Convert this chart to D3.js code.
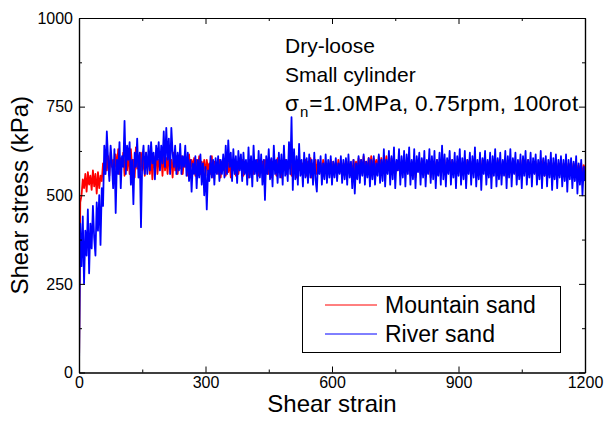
<!DOCTYPE html>
<html>
<head>
<meta charset="utf-8">
<script src="https://cdn.jsdelivr.net/npm/d3@7"></script>
<style>
  html, body { margin: 0; padding: 0; background: #fff; }
  svg { display: block; font-family: Arial, "Liberation Sans", sans-serif; }
</style>
</head>
<body>
<svg id="chart" width="606" height="424"></svg>
<script>
// ---- data ----
const strainStep = 3;            // sampling interval of the recorded series (shear strain units)
const xTicks = [0, 300, 600, 900, 1200];
const xMinorTicks = [150, 450, 750, 1050];
const yTicks = [0, 250, 500, 750, 1000];
const yMinorTicks = [125, 375, 625, 875];
const seriesNames = ["Mountain sand", "River sand"];
const seriesColors = ["#ff0000", "#0000ff"];
const annotation = ["Dry-loose", "Small cylinder"];

const mountainSand = [
  0,480,500,545,520,560,510,565,530,555,
  515,570,525,560,505,565,520,555,540,590,
  560,625,570,610,555,620,580,600,560,615,
  575,630,560,605,585,620,555,610,570,625,
  560,630,580,600,550,635,575,610,560,620,
  570,605,555,620,580,600,560,615,545,610,
  575,625,560,600,580,615,555,620,570,605,
  560,615,580,600,550,620,570,610,560,600,
  575,610,560,605,580,600,555,615,565,600,
  580,605,555,600,570,610,560,595,575,600,
  555,600,570,590,560,610,550,595,575,590,
  560,600,550,595,570,590,555,605,565,595,
  550,590,570,600,555,595,560,590,575,600,
  555,595,565,590,550,600,570,585,560,595,
  575,600,555,590,565,595,550,600,570,590,
  560,600,550,595,575,590,555,605,565,590,
  550,595,570,600,560,590,575,600,555,595,
  565,590,550,600,570,595,560,590,575,600,
  555,595,565,605,550,590,570,600,560,595,
  575,590,555,600,565,595,550,590,570,600,
  560,595,575,590,555,600,565,595,550,590,
  570,600,560,595,575,590,555,600,565,595,
  565,605,575,600,560,610,580,595,570,605,
  575,610,565,605,580,600,570,610,575,605,
  565,600,580,610,570,595,560,605,575,600,
  560,595,570,600,555,590,575,595,560,600,
  570,590,555,595,565,600,550,590,570,595,
  560,600,575,590,555,595,565,600,550,590,
  570,595,560,600,575,590,555,595,565,600,
  550,590,570,595,560,600,575,590,555,595,
  565,600,550,590,570,595,560,600,575,590,
  555,595,565,600,550,590,570,595,560,600,
  575,590,555,595,565,600,550,590,570,595,
  560,600,575,590,555,595,565,600,550,590,
  570,595,560,600,575,590,555,595,565,600,
  550,590,570,595,560,600,575,590,555,595,
  565,595,550,590,570,595,560,600,555,590,
  560,590,570,595,550,590,565,595,555,590,
  570,595,555,590,565,595,550,590,560,595,
  550,590,565,595,555,585,560,590,545,585,
  570
];

const riverSand = [
  0,420,300,440,250,400,330,460,280,420,
  350,470,380,330,480,400,500,360,520,470,
  640,560,680,600,540,640,590,520,630,450,
  600,560,650,520,610,580,710,560,640,600,
  650,530,600,475,620,580,660,550,620,410,
  600,640,560,620,560,640,570,650,590,620,
  545,640,600,650,570,640,590,680,580,690,
  600,660,560,690,620,580,640,560,620,570,
  645,560,610,580,640,555,620,540,600,510,
  590,560,610,520,600,550,615,530,590,500,
  580,460,570,540,610,550,600,530,605,560,
  610,540,600,560,615,550,640,560,655,580,
  620,540,630,560,610,535,625,570,615,540,
  620,560,600,530,635,550,610,525,640,560,
  600,540,625,550,615,530,600,487,610,560,
  630,545,605,525,640,560,600,535,620,550,
  615,530,640,555,600,540,650,560,720,515,
  630,545,610,530,645,555,600,525,620,550,
  605,535,615,550,600,530,620,545,510,600,
  560,610,530,590,545,615,535,600,550,610,
  530,595,550,605,540,590,560,610,535,600,
  545,605,530,615,550,595,520,600,505,590,
  545,610,535,600,555,615,530,595,550,605,
  525,600,545,610,530,590,555,615,535,600,
  540,630,525,600,560,625,530,610,545,635,
  520,600,570,630,530,610,550,625,525,615,
  560,635,530,600,545,630,520,610,565,620,
  530,605,550,625,525,600,560,630,535,610,
  545,625,520,600,555,620,530,640,545,615,
  525,605,560,625,530,600,550,620,520,610,
  555,630,530,605,545,625,520,600,560,620,
  530,610,550,635,525,600,545,620,515,605,
  560,625,530,600,550,620,520,610,555,630,
  525,605,545,620,530,600,555,625,520,610,
  550,630,525,605,560,620,530,600,545,615,
  520,610,555,625,530,600,550,620,525,605,
  560,615,530,600,545,625,520,605,555,610,
  525,600,550,620,515,605,545,615,520,600,
  550,610,525,600,540,615,510,600,545,605,
  520,595,540,610,505,590,530,600,500,580,
  540
];

// ---- layout ----
const svg = d3.select("#chart");
const margin = {left: 79, right: 21, top: 18, bottom: 51.5};
const W = 606 - margin.left - margin.right;
const H = 424 - margin.top - margin.bottom;
const g = svg.append("g").attr("transform", `translate(${margin.left},${margin.top})`);

const x = d3.scaleLinear().domain([0, 1200]).range([0, W]);
const y = d3.scaleLinear().domain([0, 1000]).range([H, 0]);

svg.append("defs").append("clipPath").attr("id", "clip")
  .append("rect").attr("x", 0).attr("y", 0).attr("width", W).attr("height", H);

// ---- lines ----
const line = d3.line()
  .x((d, i) => x(i * strainStep))
  .y(d => y(d));

const series = [mountainSand, riverSand];
const lg = g.append("g").attr("clip-path", "url(#clip)");
series.forEach((s, k) => {
  lg.append("path")
    .datum(s)
    .attr("fill", "none")
    .attr("stroke", seriesColors[k])
    .attr("stroke-width", 1.8)
    .attr("stroke-linejoin", "round")
    .attr("d", line);
});

// ---- axes ----
function styleAxis(sel) {
  sel.selectAll("path.domain").attr("stroke", "#000").attr("stroke-width", 1.2);
  sel.selectAll(".tick line").attr("stroke", "#000").attr("stroke-width", 1);
  sel.selectAll(".tick text").attr("fill", "#000").attr("font-size", 16)
     .attr("font-family", "Arial, 'Liberation Sans', sans-serif");
}

const xAxis = g.append("g").attr("transform", `translate(0,${H})`)
  .call(d3.axisBottom(x).tickValues(xTicks).tickSize(-6).tickSizeOuter(0).tickPadding(4).tickFormat(d3.format("d")));
styleAxis(xAxis);
const xMinor = g.append("g").attr("transform", `translate(0,${H})`)
  .call(d3.axisBottom(x).tickValues(xMinorTicks).tickSize(-3).tickSizeOuter(0).tickFormat(""));
styleAxis(xMinor);

const yAxis = g.append("g")
  .call(d3.axisLeft(y).tickValues(yTicks).tickSize(-6).tickSizeOuter(0).tickPadding(6).tickFormat(d3.format("d")));
styleAxis(yAxis);
const yMinor = g.append("g")
  .call(d3.axisLeft(y).tickValues(yMinorTicks).tickSize(-3).tickSizeOuter(0).tickFormat(""));
styleAxis(yMinor);

const xTop = g.append("g")
  .call(d3.axisTop(x).tickValues(xTicks).tickSize(-6).tickSizeOuter(0).tickFormat(""));
styleAxis(xTop);
const xTopMinor = g.append("g")
  .call(d3.axisTop(x).tickValues(xMinorTicks).tickSize(-3).tickSizeOuter(0).tickFormat(""));
styleAxis(xTopMinor);

const yRight = g.append("g").attr("transform", `translate(${W},0)`)
  .call(d3.axisRight(y).tickValues(yTicks).tickSize(-6).tickSizeOuter(0).tickFormat(""));
styleAxis(yRight);
const yRightMinor = g.append("g").attr("transform", `translate(${W},0)`)
  .call(d3.axisRight(y).tickValues(yMinorTicks).tickSize(-3).tickSizeOuter(0).tickFormat(""));
styleAxis(yRightMinor);

// ---- axis titles ----
svg.append("text")
  .attr("x", margin.left + W / 2).attr("y", 412)
  .attr("text-anchor", "middle").attr("font-size", 24).attr("fill", "#000")
  .text("Shear strain");
svg.append("text")
  .attr("transform", `translate(28,${margin.top + H / 2}) rotate(-90)`)
  .attr("text-anchor", "middle").attr("font-size", 24).attr("fill", "#000")
  .text("Shear stress (kPa)");

// ---- annotation ----
const ann = svg.append("g").attr("font-size", 21).attr("fill", "#000");
annotation.forEach((t, i) => {
  ann.append("text").attr("x", 285).attr("y", 53 + i * 29).text(t);
});
const t3 = ann.append("text").attr("x", 285).attr("y", 111).attr("font-size", 22.5);
t3.append("tspan").text("σ");
t3.append("tspan").attr("font-size", 15).attr("dy", 6).attr("dx", 1).text("n");
t3.append("tspan").attr("dy", -6).attr("dx", 1).attr("letter-spacing", 0.3).text("=1.0MPa, 0.75rpm, 100rot");

// ---- legend ----
const leg = svg.append("g");
leg.append("rect").attr("x", 302.5).attr("y", 286.5).attr("width", 258).attr("height", 66)
  .attr("fill", "#fff").attr("stroke", "#000").attr("stroke-width", 1);
seriesNames.forEach((name, i) => {
  const yy = 305 + i * 29;
  leg.append("line").attr("x1", 325).attr("x2", 377).attr("y1", yy).attr("y2", yy)
    .attr("stroke", seriesColors[i]).attr("stroke-width", 1);
  leg.append("text").attr("x", 385).attr("y", yy + 8).attr("font-size", 23).attr("fill", "#000").text(name);
});
</script>
</body>
</html>
